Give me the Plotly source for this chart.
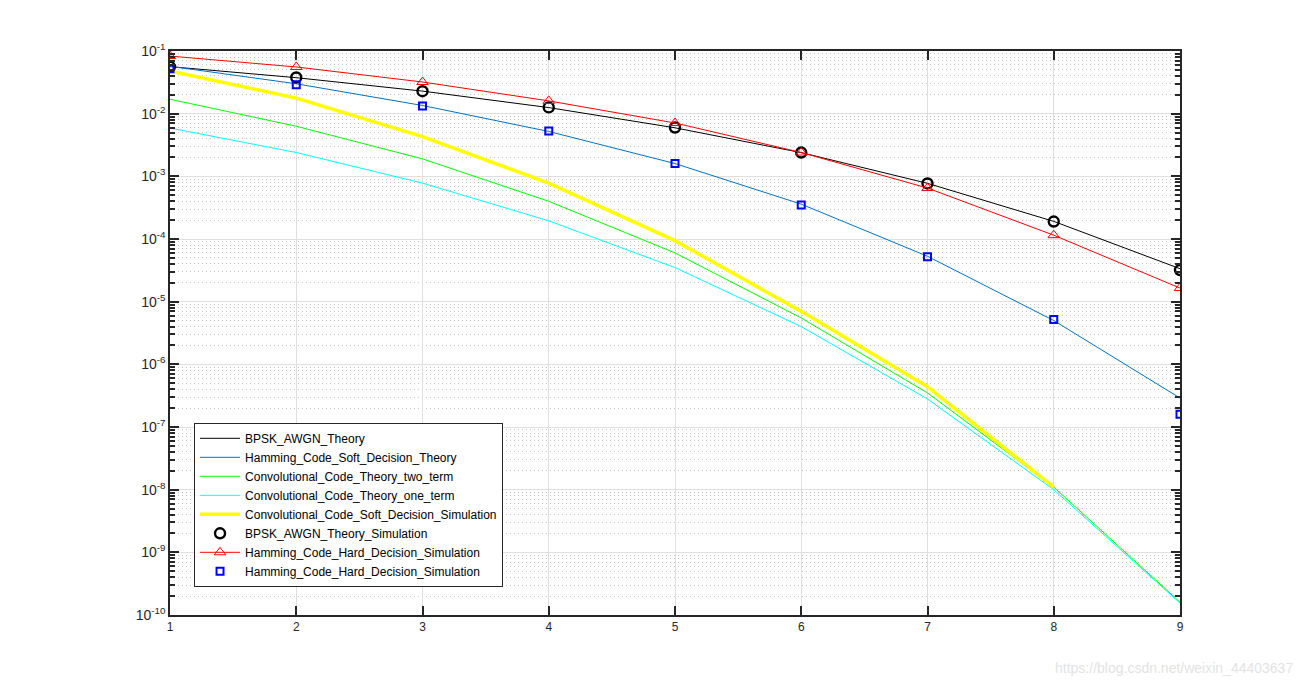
import plotly.graph_objects as go

EBN0 = [1, 2, 3, 4, 5, 6, 7, 8, 9]

BPSK_THEORY = [0.0563, 0.0375, 0.0229, 0.0125, 0.00595, 0.00239, 7.73e-4, 1.91e-4, 3.36e-5]
HAMMING_SOFT_THEORY = [0.057, 0.030, 0.0135, 0.0052, 0.0016, 3.6e-4, 5.3e-5, 5.0e-6, 2.9e-7]
CONV_TWO_TERM = [0.017, 0.0063, 0.0019, 4.0e-4, 6.0e-5, 5.5e-6, 3.5e-7, 1.1e-8, 1.6e-10]
CONV_ONE_TERM = [0.0059, 0.0024, 7.8e-4, 1.95e-4, 3.5e-5, 4.0e-6, 2.8e-7, 1.0e-8, 1.55e-10]
CONV_SOFT_SIM = [0.048, 0.0177, 0.0043, 7.8e-4, 9.4e-5, 7.0e-6, 4.4e-7, 1.1e-8, None]
BPSK_SIM = [0.0560, 0.0378, 0.0228, 0.0126, 0.0060, 0.00240, 7.7e-4, 1.9e-4, 3.2e-5]
HAMMING_HARD_SIM = [0.083, 0.0556, 0.032, 0.016, 0.0071, 0.0024, 6.5e-4, 1.15e-4, 1.65e-5]
HAMMING_HARD_SIM2 = [0.052, 0.029, 0.0132, 0.0053, 0.0016, 3.5e-4, 5.2e-5, 5.2e-6, 1.6e-7]

YTICKS = [10.0 ** -k for k in range(10, 0, -1)]
YTICK_TEXT = [f"10<sup>-{k}</sup>" for k in range(10, 0, -1)]

AX = "#262626"
FONT = "Liberation Sans, Arial, Helvetica, sans-serif"

fig = go.Figure()
fig.add_trace(go.Scatter(x=EBN0, y=BPSK_THEORY, mode="lines", name="BPSK_AWGN_Theory",
                         line=dict(color="black", width=1)))
fig.add_trace(go.Scatter(x=EBN0, y=HAMMING_SOFT_THEORY, mode="lines",
                         name="Hamming_Code_Soft_Decision_Theory",
                         line=dict(color="#0072BD", width=1)))
fig.add_trace(go.Scatter(x=EBN0, y=CONV_TWO_TERM, mode="lines",
                         name="Convolutional_Code_Theory_two_term",
                         line=dict(color="#00FF00", width=1)))
fig.add_trace(go.Scatter(x=EBN0, y=CONV_ONE_TERM, mode="lines",
                         name="Convolutional_Code_Theory_one_term",
                         line=dict(color="#00FFFF", width=1)))
fig.add_trace(go.Scatter(x=EBN0, y=CONV_SOFT_SIM, mode="lines",
                         name="Convolutional_Code_Soft_Decision_Simulation",
                         line=dict(color="#FFFF00", width=3.5)))
fig.add_trace(go.Scatter(x=EBN0, y=BPSK_SIM, mode="markers",
                         name="BPSK_AWGN_Theory_Simulation",
                         marker=dict(symbol="circle-open", size=10, color="black",
                                     line=dict(width=2.4, color="black"))))
fig.add_trace(go.Scatter(x=EBN0, y=HAMMING_HARD_SIM, mode="lines+markers",
                         name="Hamming_Code_Hard_Decision_Simulation",
                         line=dict(color="#FF0000", width=1),
                         marker=dict(symbol="triangle-up-open", size=10, color="#FF0000",
                                     line=dict(width=1, color="#FF0000"))))
fig.add_trace(go.Scatter(x=EBN0, y=HAMMING_HARD_SIM2, mode="markers",
                         name="Hamming_Code_Hard_Decision_Simulation",
                         marker=dict(symbol="square-open", size=7, color="#0000FF",
                                     line=dict(width=2, color="#0000FF"))))

fig.update_xaxes(range=[1, 9], tickvals=EBN0, ticks="inside", ticklen=9, tickcolor=AX,
                 tickwidth=1.5,
                 showgrid=True, gridcolor="#DFDFDF", gridwidth=1, zeroline=False,
                 showline=True, linecolor=AX, linewidth=1.5, mirror="ticks",
                 tickfont=dict(size=12, color=AX, family=FONT))
fig.update_yaxes(type="log", range=[-10, -1], tickvals=YTICKS, ticktext=YTICK_TEXT,
                 ticks="inside", ticklen=9, tickcolor=AX, tickwidth=1.5,
                 showgrid=True, gridcolor="#DFDFDF", gridwidth=1, zeroline=False,
                 showline=True, linecolor=AX, linewidth=1.5, mirror="ticks",
                 minor=dict(dtick="D1", ticks="inside", ticklen=5, tickcolor=AX, tickwidth=1.5,
                            showgrid=True, gridcolor="#C4C4C4", griddash="1px,3px",
                            gridwidth=1),
                 tickfont=dict(size=14, color=AX, family=FONT))

# page body adds an 8px margin, so the figure is 8px smaller than the window
fig.update_layout(
    width=1296, height=683,
    margin=dict(l=162, r=124, t=43, b=76),
    paper_bgcolor="white", plot_bgcolor="white",
    font=dict(family=FONT, color=AX),
    legend=dict(x=0.0238, y=0.05, xanchor="left", yanchor="bottom",
                bgcolor="white", bordercolor="#262626", borderwidth=1,
                font=dict(size=12, color="black", family=FONT),
                tracegroupgap=0, itemwidth=40),
    annotations=[dict(text="https://blog.csdn.net/weixin_44403637", xref="paper", yref="paper",
                      x=1.1139, y=-0.094, xanchor="right", yanchor="middle", showarrow=False,
                      font=dict(size=14, color="#E3E3E3", family=FONT))],
)

fig.write_html("out.html")
